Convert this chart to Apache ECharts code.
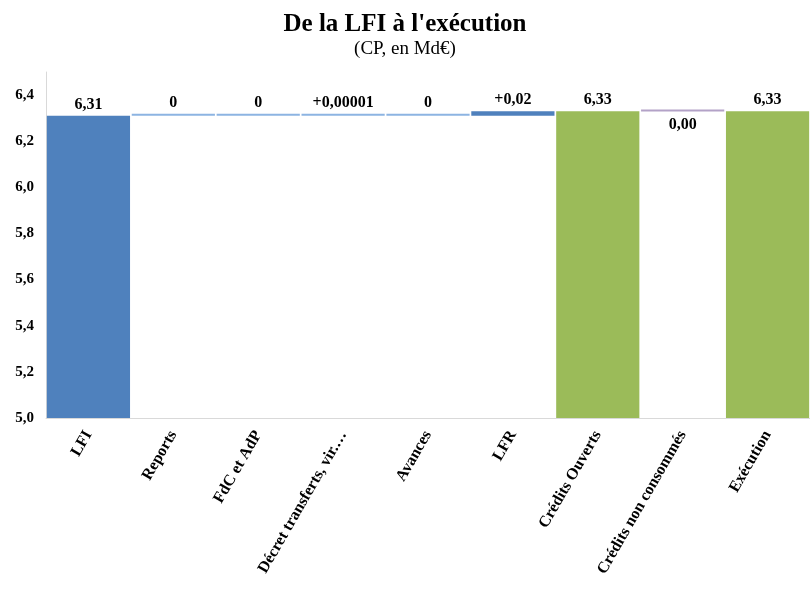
<!DOCTYPE html>
<html><head><meta charset="utf-8">
<script src="https://cdn.jsdelivr.net/npm/echarts@6/dist/echarts.min.js"></script>
<style>html,body{margin:0;padding:0;background:#fff}#c{width:810px;height:589px}</style>
</head><body><div id="c"></div>
<script>
const categories = ['LFI','Reports','FdC et AdP','Décret transferts, vir.…','Avances','LFR','Crédits Ouverts','Crédits non consommés','Exécution'];
const kinds = ['total','delta','delta','delta','delta','delta','total','delta','total'];
const values = [6.31, 0, 0, 0.00001, 0, 0.02, 6.33, -0.001, 6.33];
const labels = ['6,31','0','0','+0,00001','0','+0,02','6,33','0,00','6,33'];
const yTicks = [5.0, 6.4, 0.2];

const colors = {total0:'#4F81BD', total:'#9BBB59', up:'#4F81BD', zero:'#8DB4E2', down:'#B3A2C7'};
const base = [], bar = [];
let run = 0;
values.forEach((v,i)=>{
  let color, pos = 'top';
  if (kinds[i]==='total'){
    run = v; base.push(0);
    color = i===0 ? colors.total0 : colors.total;
    bar.push({value:v, itemStyle:{color}, label:{position:'top', distance:3}});
  } else {
    const start = run, end = run + v; run = end;
    base.push(Math.min(start,end));
    if (v>0.001) color = colors.up; else if (v<0) {color = colors.down; pos='bottom';} else color = colors.zero;
    bar.push({value:Math.abs(v), itemStyle:{color}, label:{position:pos, distance: pos==='bottom'?5:3}});
  }
});

const chart = echarts.init(document.getElementById('c'));
chart.setOption({
  animation:false,
  title:{text:"De la LFI à l'exécution", subtext:'(CP, en Md€)', left:'center', top:7, itemGap:3,
    textStyle:{fontFamily:'Liberation Serif', fontWeight:'bold', fontSize:25, color:'#000'},
    subtextStyle:{fontFamily:'Liberation Serif', fontSize:19, color:'#000'}},
  grid:{left:46, right:0, top:72, bottom:171},
  xAxis:{type:'category', data:categories,
    axisLine:{lineStyle:{color:'#D9D9D9', width:1}}, axisTick:{show:false},
    axisLabel:{rotate:60, interval:0, margin:14, color:'#000', fontFamily:'Liberation Serif', fontWeight:'bold', fontSize:16}},
  yAxis:{type:'value', min:yTicks[0], max:6.5, interval:yTicks[2],
    splitLine:{show:false}, axisTick:{show:false},
    axisLine:{show:true, lineStyle:{color:'#D9D9D9'}},
    axisLabel:{showMaxLabel:false, margin:12, color:'#000', fontFamily:'Liberation Serif', fontWeight:'bold', fontSize:15,
      formatter:v=>v.toFixed(1).replace('.',',')}},
  series:[
    {type:'bar', stack:'w', data:base, itemStyle:{color:'transparent'}, barCategoryGap:'2%', silent:true},
    {type:'bar', stack:'w', data:bar, barMinHeight:2, barCategoryGap:'2%',
      label:{show:true, color:'#000', fontFamily:'Liberation Serif', fontWeight:'bold', fontSize:16,
        formatter:p=>labels[p.dataIndex]}}
  ]
});
</script></body></html>
